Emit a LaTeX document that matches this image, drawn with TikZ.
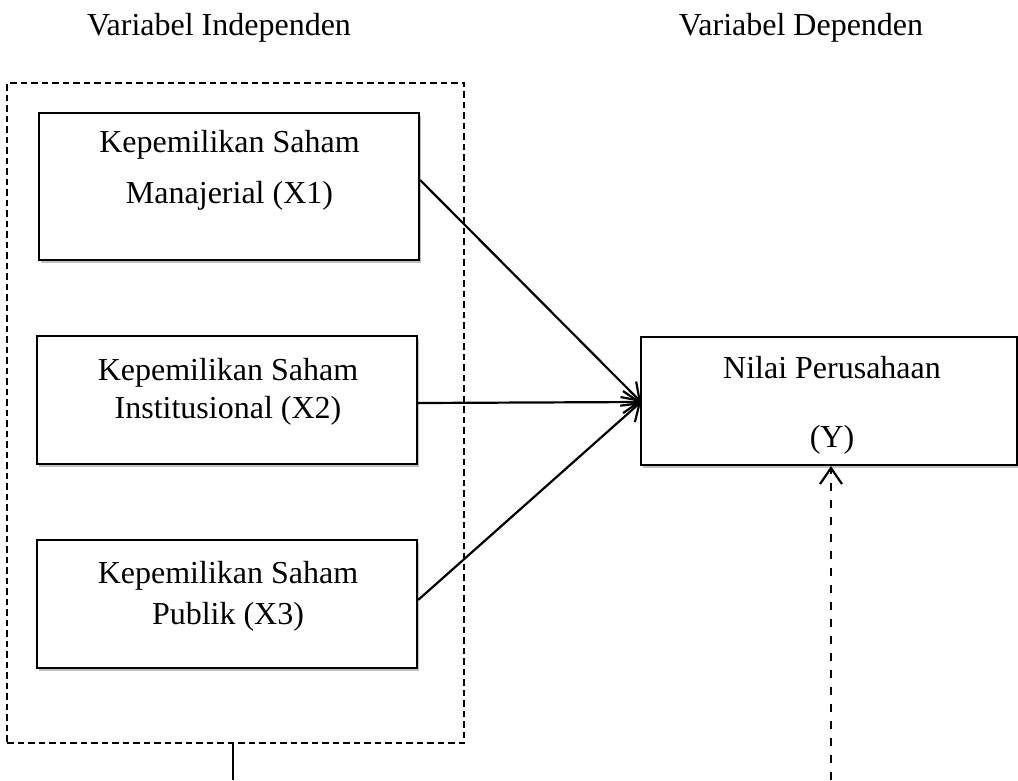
\documentclass[tikz,border=0pt]{standalone}
\usepackage{fontspec}
\setmainfont{Liberation Serif}
\usetikzlibrary{arrows.meta,shadows}
\begin{document}
\begin{tikzpicture}[x=1pt,y=-1pt,
  box/.style={draw=black,line width=2.2pt,fill=white,inner sep=0pt,
    drop shadow={shadow xshift=1.5pt,shadow yshift=-2.5pt,opacity=0.35,fill=black!70}},
  lbl/.style={font=\fontsize{32}{37}\selectfont,align=center,inner sep=0pt},
  grpbox/.style={draw=black,line width=1.8pt,dash pattern=on 6.5pt off 4pt,inner sep=0pt},
  tip/.style={-{Straight Barb[length=16pt,width=22pt,line width=2.2pt]}},
  conn/.style={line width=2.2pt,tip},
]
\useasboundingbox (0,0) rectangle (1018,780);

% titles
\node[lbl] (tind) at (219,28) {Variabel Independen};
\node[lbl] (tdep) at (801,28) {Variabel Dependen};

% dashed group
\node[grpbox,minimum width=457pt,minimum height=660pt] (grp) at (235.5,413) {};

% boxes
\node[box,minimum width=380pt,minimum height=147pt] (x1) at (229,186.5) {};
\node[lbl] (x1t) at (229.5,170.5) {Kepemilikan Saham\\[14pt]Manajerial (X1)};

\node[box,minimum width=380pt,minimum height=128pt] (x2) at (227,400) {};
\node[lbl] (x2t) at (228,392) {Kepemilikan Saham\\[1pt]Institusional (X2)};

\node[box,minimum width=380pt,minimum height=128pt] (x3) at (227,604) {};
\node[lbl] (x3t) at (228,596) {Kepemilikan Saham\\[4pt]Publik (X3)};

\node[box,minimum width=376pt,minimum height=128pt] (y) at (829,401) {};
\node[lbl] (yt) at (832,405) {Nilai Perusahaan\\[32pt](Y)};

% connectors
\coordinate (yin) at (641,402);
\draw[conn] ([yshift=6.5pt]x1.east) -- (yin);
\draw[conn] ([yshift=-3pt]x2.east) -- (yin);
\draw[conn] ([yshift=4pt]x3.east) -- (yin);

\coordinate (gbot) at (233,780);
\draw[line width=1.8pt] (grp.south -| gbot) -- (gbot);

\coordinate (dbot) at (831,780);
\draw[line width=2pt,dash pattern=on 8pt off 9pt,tip] (dbot) -- (y.south -| dbot);
\end{tikzpicture}
\end{document}
